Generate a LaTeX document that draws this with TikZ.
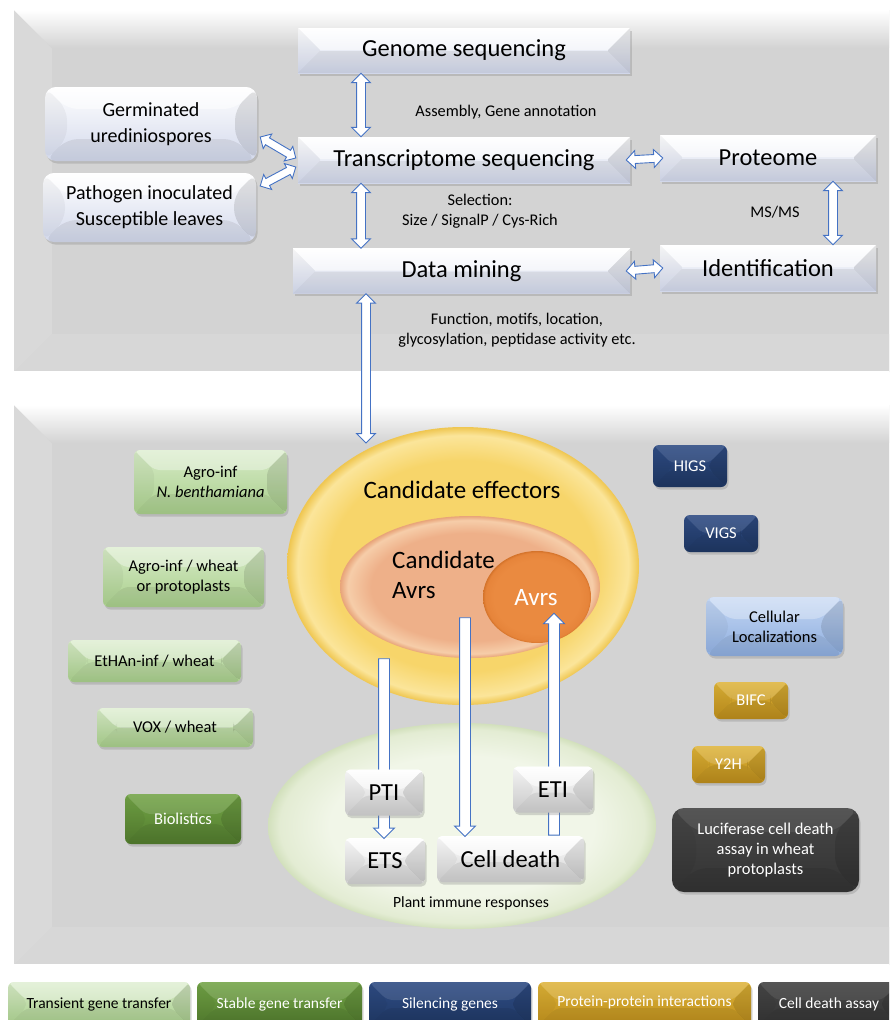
\documentclass[tikz,border=0pt]{standalone}
\usepackage{fontspec}
\setmainfont{Carlito}
\usetikzlibrary{shapes.geometric,shapes.arrows,shadows,calc}
\definecolor{panel}{HTML}{D3D3D3}
\definecolor{panelL}{HTML}{D9D9D9}
\definecolor{lav}{HTML}{D3D9EC}
\definecolor{arrblue}{HTML}{4472C4}
\definecolor{lgA}{HTML}{D6EAC6}
\definecolor{lgB}{HTML}{A9CF8C}
\definecolor{dgA}{HTML}{72A346}
\definecolor{dgB}{HTML}{527C2E}
\definecolor{nvA}{HTML}{2F4C84}
\definecolor{nvB}{HTML}{1F3864}
\definecolor{lbA}{HTML}{C3D6F3}
\definecolor{lbB}{HTML}{8EAEDF}
\definecolor{gdA}{HTML}{DDB236}
\definecolor{gdB}{HTML}{BC8D1C}
\definecolor{dkA}{HTML}{474747}
\definecolor{dkB}{HTML}{333333}
\definecolor{gyB}{HTML}{D0D0D0}
\definecolor{yelIn}{HTML}{F7D56A}
\definecolor{yelRim}{HTML}{FBE59A}
\definecolor{yelEdge}{HTML}{EFC650}
\definecolor{salIn}{HTML}{EEB089}
\definecolor{salRim}{HTML}{F6CDA9}
\definecolor{salEdge}{HTML}{E8A479}
\definecolor{orIn}{HTML}{EA8A40}
\definecolor{orRim}{HTML}{E6843A}
\definecolor{orEdge}{HTML}{D4732A}
\definecolor{grIn}{HTML}{F1F6E8}
\definecolor{grRim}{HTML}{E3ECD3}
\definecolor{grEdge}{HTML}{D2E0BC}
\pgfdeclareradialshading{yelsh}{\pgfpoint{0bp}{0bp}}{color(0bp)=(yelIn); color(19bp)=(yelIn); color(23.5bp)=(yelRim); color(25bp)=(yelEdge); color(50bp)=(yelEdge)}
\pgfdeclareradialshading{salsh}{\pgfpoint{0bp}{0bp}}{color(0bp)=(salIn); color(19bp)=(salIn); color(23.5bp)=(salRim); color(25bp)=(salEdge); color(50bp)=(salEdge)}
\pgfdeclareradialshading{orsh}{\pgfpoint{0bp}{0bp}}{color(0bp)=(orIn); color(20bp)=(orIn); color(24bp)=(orRim); color(25bp)=(orEdge); color(50bp)=(orEdge)}
\pgfdeclareradialshading{grsh}{\pgfpoint{0bp}{0bp}}{color(0bp)=(grIn); color(17bp)=(grIn); color(23.5bp)=(grRim); color(25bp)=(grEdge); color(50bp)=(grEdge)}
\pgfkeys{/tikz/bevtop/.initial=0.5}
\newcommand\blockarr[3][]{%
  \path let \p1=($(#3)-(#2)$), \n1={veclen(\x1,\y1)} in (#2) -- (#3)
    node[midway, sloped, allow upside down, barr, #1, minimum height=\n1]{};}
\newcommand\drawpanel[2]{%
  \fill[panel] (14,#1) rectangle (900,#2);
  \fill[panelL] (14,#1) -- (52,#1+38) -- (52,#2-38) -- (14,#2) -- cycle;
  \fill[panelL!60!panel] (14,#2) -- (52,#2-38) -- (900,#2-38) -- (900,#2) -- cycle;
  \shade[top color=white, bottom color=panel] (14,#1) -- (900,#1) -- (900,#1+38) -- (52,#1+38) -- cycle;
  \draw[white, line width=1.2pt] (14,#2) -- (900,#2);
}
\begin{document}
\begin{tikzpicture}[x=1pt,y=-1pt,
  bev/.style={path picture={
    \path (path picture bounding box.north west) coordinate (q1)
          (path picture bounding box.north east) coordinate (q2)
          (path picture bounding box.south east) coordinate (q3)
          (path picture bounding box.south west) coordinate (q4);
    \path ([shift={(#1,-#1)}]q1) coordinate (r1)
          ([shift={(-#1,-#1)}]q2) coordinate (r2)
          ([shift={(-#1,#1)}]q3) coordinate (r3)
          ([shift={(#1,#1)}]q4) coordinate (r4);
    \fill[white,opacity=\pgfkeysvalueof{/tikz/bevtop}] (q1) -- (q2) -- (r2) -- (r1) -- cycle;
    \fill[black,opacity=.04] (q1) -- (r1) -- (r4) -- (q4) -- cycle;
    \fill[black,opacity=.11] (q2) -- (q3) -- (r3) -- (r2) -- cycle;
    \fill[black,opacity=.07] (q4) -- (r4) -- (r3) -- (q3) -- cycle;
  }},
  sh/.style={drop shadow={shadow xshift=1.5pt,shadow yshift=-2.5pt,opacity=.3}},
  base/.style={inner sep=0pt, align=center, sh},
  tb/.style={base, rectangle, top color=white, bottom color=lav, bev=22pt, font=\fontsize{24.5}{28}\selectfont},
  sb/.style={base, rounded corners=11pt, top color=white, bottom color=lav, bev=22pt, font=\fontsize{20}{26}\selectfont},
  wb/.style={base, rounded corners=5pt, top color=white, bottom color=gyB, bev=20pt, font=\fontsize{24.5}{28}\selectfont},
  small/.style={font=\fontsize{16.5}{20}\selectfont},
  lgbox/.style={base, small, rounded corners=6pt, top color=lgA, bottom color=lgB, bev=20pt, bevtop=0.35},
  dgbox/.style={base, small, rounded corners=6pt, top color=dgA, bottom color=dgB, bev=20pt, text=white, bevtop=0.12},
  nvbox/.style={base, small, rounded corners=6pt, top color=nvA, bottom color=nvB, bev=18pt, text=white, bevtop=0.1},
  lbbox/.style={base, small, rounded corners=8pt, top color=lbA, bottom color=lbB, bev=22pt, bevtop=0.3},
  gdbox/.style={base, small, rounded corners=6pt, top color=gdA, bottom color=gdB, bev=18pt, text=white, bevtop=0.15},
  dkbox/.style={base, small, rounded corners=12pt, top color=dkA, bottom color=dkB, bev=24pt, text=white, bevtop=0.08},
  lbl/.style={font=\fontsize{16.3}{20}\selectfont, align=center, inner sep=0pt},
  barr/.style={draw=arrblue, fill=white, line width=0.9pt, inner sep=0pt, inner ysep=4pt,
    double arrow head extend=5pt, double arrow head indent=0pt,
    single arrow head extend=5pt, single arrow head indent=0pt},
  bigtxt/.style={font=\fontsize{25}{30}\selectfont, inner sep=0pt},
  legf/.style={font=\fontsize{15.5}{18}\selectfont, minimum height=44}
]
\useasboundingbox (0,0) rectangle (889,1020);
\clip (0,0) rectangle (889,1020);
\fill[white] (0,0) rectangle (889,1020);

% ---------- panels
\drawpanel{10}{372}
\drawpanel{405}{965}

% ---------- top panel boxes
\node[tb, minimum width=332, minimum height=45] (genome) at (464,50.5) {Genome sequencing};
\node[tb, minimum width=332, minimum height=46] (trans) at (464,160) {Transcriptome sequencing};
\node[tb, minimum width=337, minimum height=45] (dm) at (461.5,271) {Data mining};
\node[tb, minimum width=216, minimum height=46] (prot) at (768,158) {Proteome};
\node[tb, minimum width=216, minimum height=46] (ident) at (768,268) {Identification};
\node[sb, minimum width=212, minimum height=74] (germ) at (151,124) {Germinated\\urediniospores};
\node[sb, minimum width=213, minimum height=69] (patho) at (149.5,207.5) {Pathogen inoculated\\Susceptible leaves};

\node[lbl] (l1) at (506,112) {Assembly, Gene annotation};
\node[lbl] (l2) at (480,211) {Selection:\\Size / SignalP / Cys-Rich};
\node[lbl] (l3) at (775,212) {MS/MS};
\node[lbl] (l4) at (517,330) {Function, motifs, location,\\glycosylation, peptidase activity etc.};

% top arrows
\blockarr[double arrow]{[xshift=-103pt]genome.south}{[xshift=-103pt]trans.north}
\blockarr[double arrow]{[xshift=-103pt]trans.south}{[xshift=-100.5pt]dm.north}
\blockarr[double arrow, inner ysep=3.5pt]{[xshift=-4pt]trans.east}{[xshift=3pt]prot.west}
\blockarr[double arrow, inner ysep=3.5pt]{[xshift=-4pt]dm.east}{[xshift=3pt]ident.west}
\blockarr[double arrow]{[xshift=65pt]prot.south}{[xshift=65pt]ident.north}
\blockarr[double arrow, inner ysep=3.5pt, double arrow head extend=4.5pt]{[shift={(3pt,-13pt)}]germ.east}{[shift={(-2pt,2pt)}]trans.west}
\blockarr[double arrow, inner ysep=3.5pt, double arrow head extend=4.5pt]{[shift={(4pt,21.5pt)}]patho.east}{[shift={(-2pt,-7pt)}]trans.west}

% ---------- bottom panel ellipses
\node[ellipse, shade, shading=yelsh, minimum width=352, minimum height=278, inner sep=0pt] (ce) at (463,566) {};
\node[ellipse, shade, shading=salsh, minimum width=260, minimum height=142, inner sep=0pt] (ca) at (470,587) {};
\node[ellipse, shade, shading=orsh, minimum width=108, minimum height=92, inner sep=0pt] (avrs) at (537,597) {};
\node[ellipse, shade, shading=grsh, minimum width=388, minimum height=206, inner sep=0pt] (pir) at (462,826) {};

\coordinate (ceTop) at (366,443);
\coordinate (caLow) at (384,656);
\coordinate (caMid) at (465,615);
\coordinate (avIn) at (554,616);

\blockarr[double arrow]{[xshift=-95.5pt]dm.south}{ceTop}

% bottom arrows (under the boxes)
\node[wb, minimum width=80, minimum height=46] (ets) at (385,861) {ETS};
\node[wb, minimum width=147, minimum height=46] (cd) at (510.5,859) {Cell death};
\blockarr[single arrow, inner ysep=5pt]{caLow}{[xshift=-1pt,yshift=2pt]ets.north}
\blockarr[single arrow, inner ysep=5pt]{caMid}{[xshift=-45.5pt,yshift=2pt]cd.north}
\blockarr[single arrow, inner ysep=5pt]{[xshift=43.5pt,yshift=-2pt]cd.north}{avIn}
\node[wb, minimum width=78, minimum height=46] (pti) at (384,792.5) {PTI};
\node[wb, minimum width=80, minimum height=46] (eti) at (553,789.5) {ETI};

\node[bigtxt] (ceT) at (462,490) {Candidate effectors};
\node[bigtxt, align=left, anchor=west] (caT) at (392,575) {Candidate\\Avrs};
\node[bigtxt, text=white] (avT) at (536,598) {Avrs};
\node[font=\fontsize{15.6}{18}\selectfont, inner sep=0pt] (pirT) at (471,903) {Plant immune responses};

% ---------- left method boxes
\node[lgbox, minimum width=153, minimum height=64] (agro1) at (210.5,482) {Agro-inf\\\textit{N. benthamiana}};
\node[lgbox, minimum width=161, minimum height=60] (agro2) at (183.5,577) {Agro-inf / wheat\\or protoplasts};
\node[lgbox, minimum width=173, minimum height=42] (ethan) at (154.5,661) {EtHAn-inf / wheat};
\node[lgbox, minimum width=156, minimum height=39] (vox) at (175,727.5) {VOX / wheat};
\node[dgbox, minimum width=116, minimum height=50] (bio) at (183,819) {Biolistics};

% ---------- right method boxes
\node[nvbox, minimum width=74, minimum height=42] (higs) at (690,466) {HIGS};
\node[nvbox, minimum width=74, minimum height=37] (vigs) at (721,533.5) {VIGS};
\node[lbbox, minimum width=137, minimum height=59] (cell) at (774.5,626.5) {Cellular\\Localizations};
\node[gdbox, minimum width=74, minimum height=37] (bifc) at (751,700.5) {BIFC};
\node[gdbox, minimum width=73, minimum height=37] (y2h) at (728.5,764.5) {Y2H};
\node[dkbox, minimum width=187, minimum height=84] (luc) at (765.5,850) {Luciferase cell death\\assay in wheat\\protoplasts};

% ---------- legend
\node[lgbox, legf, minimum width=182, bev=18pt] (leg1) at (99,1004) {Transient gene transfer};
\node[dgbox, legf, minimum width=165, bev=18pt] (leg2) at (279.5,1004) {Stable gene transfer};
\node[nvbox, legf, minimum width=162] (leg3) at (450,1004) {Silencing genes};
\node[gdbox, legf, minimum width=213, text depth=5pt] (leg4) at (644.5,1004) {Protein-protein interactions};
\node[dkbox, legf, rounded corners=6pt, bev=18pt, minimum width=142] (leg5) at (829,1004) {Cell death assay};
\end{tikzpicture}
\end{document}
